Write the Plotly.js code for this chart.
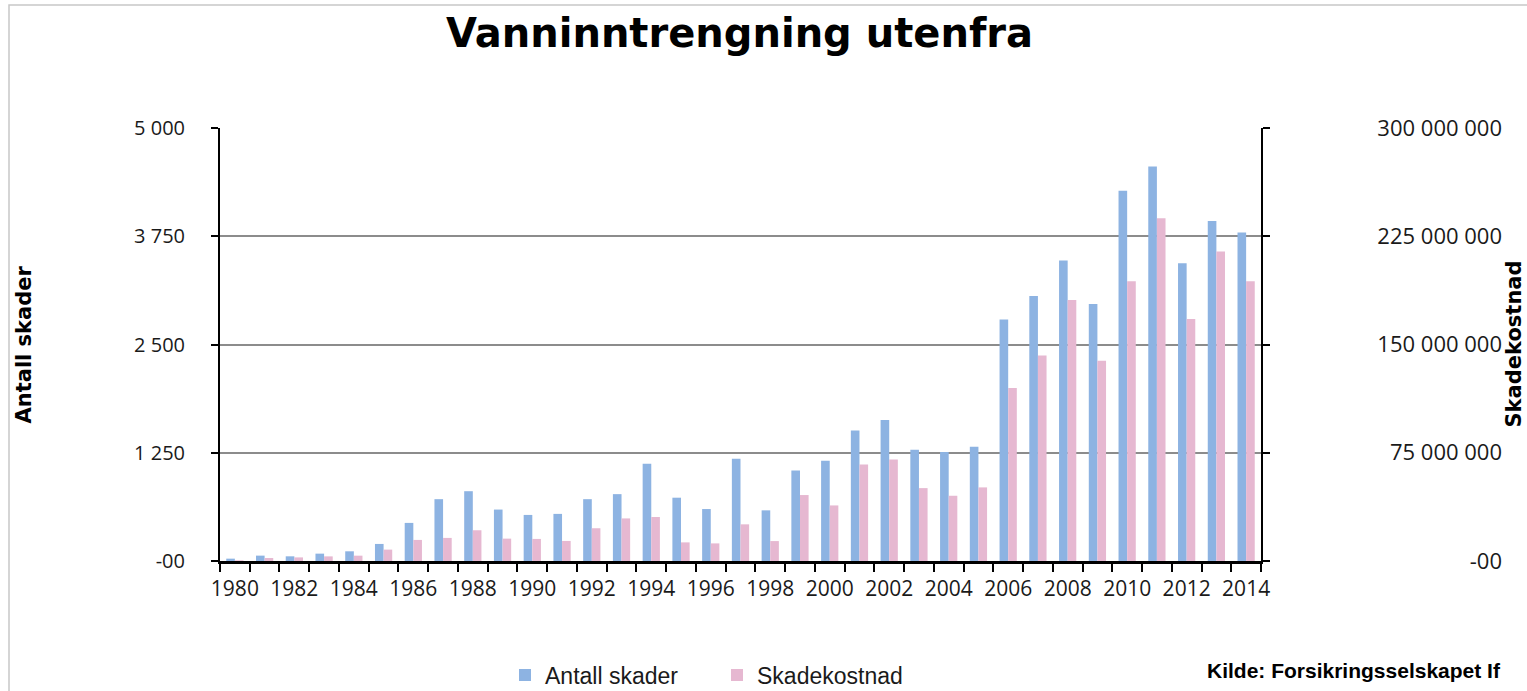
<!DOCTYPE html>
<html>
<head>
<meta charset="utf-8">
<script src="https://cdn.plot.ly/plotly-3.0.1.min.js"></script>
<style>html,body{margin:0;padding:0;background:#fff;}#chart{width:1527px;height:691px;}</style>
</head>
<body>
<div id="chart"></div>
<script>
const years = [1980,1981,1982,1983,1984,1985,1986,1987,1988,1989,1990,1991,1992,1993,1994,1995,1996,1997,1998,1999,2000,2001,2002,2003,2004,2005,2006,2007,2008,2009,2010,2011,2012,2013,2014];
const antallSkader = [27,62,54,85,112,197,440,714,806,594,532,544,714,772,1123,731,600,1181,585,1046,1158,1508,1627,1285,1258,1319,2790,3060,3469,2968,4274,4555,3438,3927,3792];
const skadekostnad = [0.5e6,2.1e6,2.5e6,3.2e6,3.7e6,7.9e6,14.6e6,16.0e6,21.3e6,15.5e6,15.3e6,13.9e6,22.7e6,29.5e6,30.5e6,12.9e6,12.2e6,25.4e6,13.8e6,45.7e6,38.5e6,66.9e6,70.4e6,50.5e6,45.2e6,51.0e6,119.8e6,142.4e6,180.8e6,138.7e6,193.8e6,237.5e6,167.6e6,214.4e6,193.8e6];
const leftTickVals = [0,1250,2500,3750,5000];
const leftTickText = ["-00","1 250","2 500","3 750","5 000"];
const rightTickVals = [0,75e6,150e6,225e6,300e6];
const rightTickText = ["-00","75 000 000","150 000 000","225 000 000","300 000 000"];
const xTickVals = [1980,1982,1984,1986,1988,1990,1992,1994,1996,1998,2000,2002,2004,2006,2008,2010,2012,2014];

const W = 1527, H = 691, L = 220, R = 20, T = 128, B = 130;
const PW = W - L - R, PH = H - T - B;
const px = v => (v - L) / PW;
const py = v => (H - B - v) / PH;

const txt = "#1a1a1a";

const traces = [
  {type: "bar", name: "Antall skader", x: years, y: antallSkader, yaxis: "y",
   marker: {color: "#8db3e2"}, alignmentgroup: "a", offsetgroup: "1", hoverinfo: "x+y"},
  {type: "bar", name: "Skadekostnad", x: years, y: skadekostnad, yaxis: "y2",
   marker: {color: "#e6b8d1"}, alignmentgroup: "a", offsetgroup: "2", hoverinfo: "x+y"}
];

const layout = {
  width: W, height: H,
  margin: {l: L, r: R, t: T, b: B, pad: 0},
  paper_bgcolor: "#ffffff", plot_bgcolor: "#ffffff",
  barmode: "group", bargap: 0.42, bargroupgap: 0,
  title: {text: "Vanninntrengning utenfra", x: 739.5 / W, xref: "container", xanchor: "center",
          y: 1 - 33 / H, yref: "container", yanchor: "middle",
          font: {family: "DejaVu Sans, sans-serif", size: 40, color: "#000", weight: "bold"}},
  xaxis: {
    domain: [0, (1261 - L) / PW],
    range: [1979.5, 2014.5], tickmode: "array", tickvals: xTickVals,
    ticks: "outside", ticklen: 7, tickcolor: "rgba(0,0,0,0)",
    minor: {tickmode: "linear", tick0: 1979.5, dtick: 1, ticks: "outside", ticklen: 8, tickwidth: 2, tickcolor: "#000", showgrid: false},
    showline: true, linecolor: "#000", linewidth: 2.5, showgrid: false, zeroline: false,
    tickfont: {family: "Open Sans, sans-serif", size: 21, color: txt}, fixedrange: true, automargin: false
  },
  yaxis: {
    range: [0, 5000], tickmode: "array", tickvals: leftTickVals, ticktext: leftTickText,
    ticks: "outside", ticklen: 7, tickwidth: 2, tickcolor: "#000", ticklabelstandoff: 22,
    showline: true, linecolor: "#000", linewidth: 2, mirror: "ticks",
    showgrid: true, gridcolor: "#8c8c8c", gridwidth: 2, zeroline: false,
    tickfont: {family: "Open Sans, sans-serif", size: 20, color: txt}, fixedrange: true, automargin: false
  },
  yaxis2: {
    overlaying: "y", anchor: "free", side: "left", position: px(1502),
    range: [0, 300e6], tickmode: "array", tickvals: rightTickVals, ticktext: rightTickText,
    ticks: "", showline: false, showgrid: false, zeroline: false,
    tickfont: {family: "Open Sans, sans-serif", size: 22, color: txt}, fixedrange: true, automargin: false
  },
  showlegend: true,
  legend: {orientation: "h", xref: "container", yref: "container", x: 505 / W, xanchor: "left", y: 1 - 675 / H, yanchor: "middle",
           font: {family: "Liberation Sans Narrow, sans-serif", size: 23, color: txt},
           entrywidth: 167, entrywidthmode: "pixels", bgcolor: "rgba(0,0,0,0)", traceorder: "normal"},
  annotations: [
    {text: "Antall skader", xref: "paper", yref: "paper", x: px(23), y: 0.5, xanchor: "center", yanchor: "middle",
     textangle: -90, showarrow: false, font: {family: "DejaVu Sans, sans-serif", size: 21, color: "#000", weight: "bold"}},
    {text: "Skadekostnad", xref: "paper", yref: "paper", x: px(1527), y: 0.5, xanchor: "right", yanchor: "middle",
     textangle: -90, showarrow: false, font: {family: "DejaVu Sans, sans-serif", size: 21, color: "#000", weight: "bold"}},
    {text: "Kilde: Forsikringsselskapet If", xref: "paper", yref: "paper", x: px(1503), y: py(670), xanchor: "right", yanchor: "middle",
     showarrow: false, font: {family: "Liberation Sans Narrow, sans-serif", size: 21, color: "#000", weight: "bold"}}
  ],
  shapes: [
    {type: "rect", xref: "paper", yref: "paper", x0: px(9), x1: px(1560), y0: py(720), y1: py(5),
     line: {color: "#c8c8c8", width: 1.5}, fillcolor: "rgba(0,0,0,0)", layer: "below"}
  ]
};

Plotly.newPlot("chart", traces, layout, {displayModeBar: false, staticPlot: true});
</script>
</body>
</html>
